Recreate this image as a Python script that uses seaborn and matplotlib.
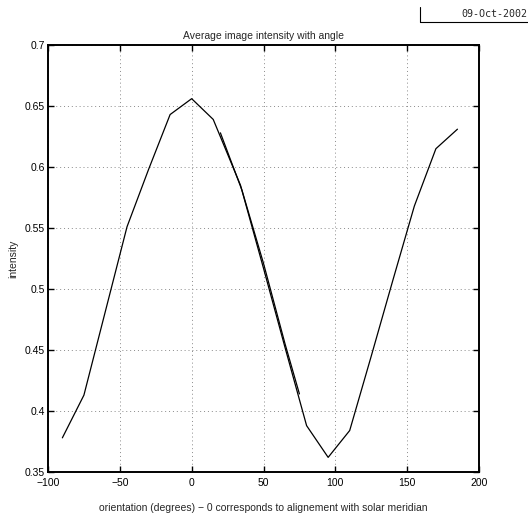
import numpy as np
import pandas as pd
import matplotlib
matplotlib.use("Agg")
import matplotlib.pyplot as plt
import seaborn as sns

# data
angle = [-90, -75, -60, -45, -30, -15, 0, 15, 34, 50, 65, 80, 95, 110, 125, 140, 155, 170, 185]
intensity = [0.378, 0.413, 0.482, 0.551, 0.598, 0.643, 0.656, 0.639, 0.585, 0.517, 0.452,
             0.388, 0.362, 0.384, 0.445, 0.507, 0.568, 0.615, 0.631]

fit_angle = [20, 35, 50, 65, 75]
fit_intensity = [0.628, 0.581, 0.521, 0.455, 0.414]

x_ticks = [-100, -50, 0, 50, 100, 150, 200]
y_ticks = [0.35, 0.4, 0.45, 0.5, 0.55, 0.6, 0.65, 0.7]
y_labels = ["0.35", "0.4", "0.45", "0.5", "0.55", "0.6", "0.65", "0.7"]

df = pd.DataFrame({"angle": angle, "intensity": intensity})
df_fit = pd.DataFrame({"angle": fit_angle, "intensity": fit_intensity})

sns.set_style("white")
plt.rcParams["font.family"] = ["Liberation Sans", "DejaVu Sans"]

fig = plt.figure(figsize=(5.28, 5.16), dpi=100)
ax = fig.add_axes([48 / 528, 1 - 472 / 516, 431 / 528, 427 / 516])

sns.lineplot(data=df, x="angle", y="intensity", ax=ax, color="black",
             linewidth=0.9, sort=False, estimator=None)
sns.lineplot(data=df_fit, x="angle", y="intensity", ax=ax, color="black",
             linewidth=0.9, sort=False, estimator=None)

ax.set_xlim(-100, 200)
ax.set_ylim(0.35, 0.7)
ax.set_xticks(x_ticks)
ax.set_xticklabels([str(t).replace("-", "\u2212") for t in x_ticks])
ax.set_yticks(y_ticks)
ax.set_yticklabels(y_labels)

ax.grid(True, linestyle=(0, (1, 3)), color="#8a8a8a", linewidth=0.7)
ax.tick_params(direction="in", length=4, width=1, labelsize=7.5,
               top=True, right=True, bottom=True, left=True, colors="black")
ax.tick_params(axis="x", pad=4)
ax.tick_params(axis="y", pad=2)
for s in ax.spines.values():
    s.set_color("black")
    s.set_linewidth(1.4)

ax.set_title("Average image intensity with angle", fontsize=7.5, pad=4)
ax.set_xlabel("orientation (degrees) \u2212 0 corresponds to alignement with solar meridian",
              fontsize=7.5, labelpad=11)
ax.set_ylabel("intensity", fontsize=7.5, labelpad=5)

# date stamp in the top-right corner
fig.text(461 / 528, 1 - 14 / 516, "09-Oct-2002", fontsize=7.2, va="center", ha="left",
         family="DejaVu Sans Mono")
fig.add_artist(plt.Line2D([420 / 528, 1.0], [1 - 22 / 516, 1 - 22 / 516],
                          color="black", linewidth=0.8))
fig.add_artist(plt.Line2D([420 / 528, 420 / 528], [1 - 7 / 516, 1 - 22 / 516],
                          color="black", linewidth=0.8))

fig.savefig("out.png", dpi=100)
